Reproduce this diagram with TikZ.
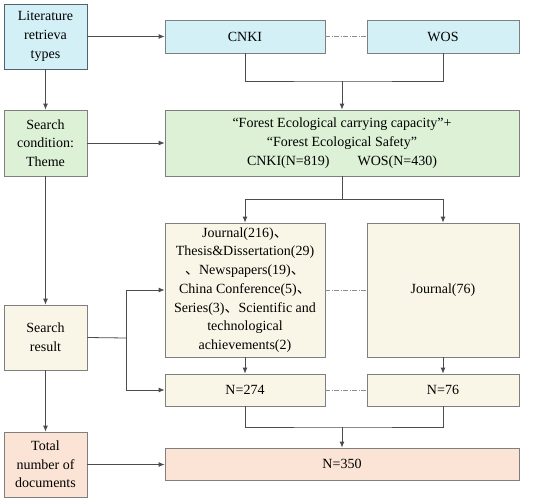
\documentclass[tikz,border=0pt]{standalone}
\usepackage{fontspec}
\setmainfont{Liberation Serif}
\newfontfamily\cjk{Noto Sans CJK SC}
\usetikzlibrary{arrows.meta}
\newcommand{\dun}{{\cjk 、}}
\definecolor{boxline}{HTML}{7F7F7F}
\definecolor{litline}{HTML}{4F6470}
\definecolor{fillcyan}{HTML}{D2F0F6}
\definecolor{fillgreen}{HTML}{DCF1D5}
\definecolor{fillcream}{HTML}{FAF6E7}
\definecolor{fillpeach}{HTML}{FBE4D5}
\begin{document}
\begin{tikzpicture}[x=1pt,y=-1pt]
			\tikzstyle{Box} = [rectangle, draw=boxline, line width=0.8pt, inner sep=2pt, align=center, font=\fontsize{14}{18.7}\selectfont]
			\tikzstyle{Link} = [draw=black!70, line width=0.8pt, -{Latex[length=6pt,width=5pt]}]
			\tikzstyle{Dot} = [draw=black!45, line width=0.6pt, dash pattern=on 5pt off 1.5pt on 1pt off 1.5pt]
			\useasboundingbox (0,0) rectangle (550,504);
			\node (lit) at (45.5,36.5) [Box, draw=litline, fill=fillcyan, minimum width=83, minimum height=65] {Literature\\retrieva\\types};
			\node (cnki) at (245,36.5) [Box, fill=fillcyan, minimum width=160, minimum height=33] {CNKI};
			\node (wos) at (443,36.5) [Box, fill=fillcyan, minimum width=152, minimum height=33] {WOS};
			\node (cond) at (45.5,143) [Box, fill=fillgreen, minimum width=83, minimum height=66] {Search\\condition:\\Theme};
			\node (forest) at (342,143) [Box, fill=fillgreen, minimum width=354, minimum height=66] {“Forest Ecological carrying capacity”+\\“Forest Ecological Safety”\\CNKI(N=819)\hspace{2em}WOS(N=430)};
			\node (res) at (45.5,337.5) [Box, fill=fillcream, minimum width=83, minimum height=65] {Search\\result};
			\node (jour) at (245,290) [Box, fill=fillcream, minimum width=160, minimum height=134] {Journal(216)\dun\\Thesis\&Dissertation(29)\\\dun Newspapers(19)\dun\\China Conference(5)\dun\\Series(3)\dun Scientific and\\technological\\achievements(2)};
			\node (jwos) at (443,290) [Box, fill=fillcream, minimum width=152, minimum height=134] {Journal(76)};
			\node (n274) at (245,390) [Box, fill=fillcream, minimum width=160, minimum height=32] {N=274};
			\node (n76) at (443,390) [Box, fill=fillcream, minimum width=152, minimum height=32] {N=76};
			\node (total) at (45.5,464.5) [Box, fill=fillpeach, minimum width=83, minimum height=65] {Total\\number of\\documents};
			\node (n350) at (342,464) [Box, fill=fillpeach, minimum width=354, minimum height=32] {N=350};
			\coordinate (m1) at (342,81);
			\coordinate (b1) at (342,199);
			\coordinate (b2) at (126,338);
			\coordinate (m2) at (342,427);
			% left column
			\draw [Link] (lit) to (cond);
			\draw [Link] (cond) to (res);
			\draw [Link] (res) to (total);
			\draw [Link] (lit) to (cnki);
			\draw [Link] (cond) to (forest);
			\draw [Link] (total.east) to (total.east -| n350.west);
			% sources
			\draw [Dot] (cnki) to (wos);
			\draw [draw=black!70, line width=0.8pt] (cnki.south) |- (m1) -| (wos.south);
			\draw [Link] (m1) to (forest);
			% results
			\draw [draw=black!70, line width=0.8pt] (forest.south) to (b1);
			\draw [Link] (b1) -| (jour.north);
			\draw [Link] (b1) -| (jwos.north);
			\draw [draw=black!70, line width=0.8pt] (res.east) to (b2);
			\draw [Link] (b2) |- (jour.west);
			\draw [Link] (b2) |- (n274.west);
			\draw [Dot] (jour) to (jwos);
			\draw [Dot] (n274) to (n76);
			\draw [Link] (jour) to (n274);
			\draw [Link] (jwos) to (n76);
			% total
			\draw [draw=black!70, line width=0.8pt] (n274.south) |- (m2) -| (n76.south);
			\draw [Link] (m2) to (n350);
		\end{tikzpicture}
\end{document}
